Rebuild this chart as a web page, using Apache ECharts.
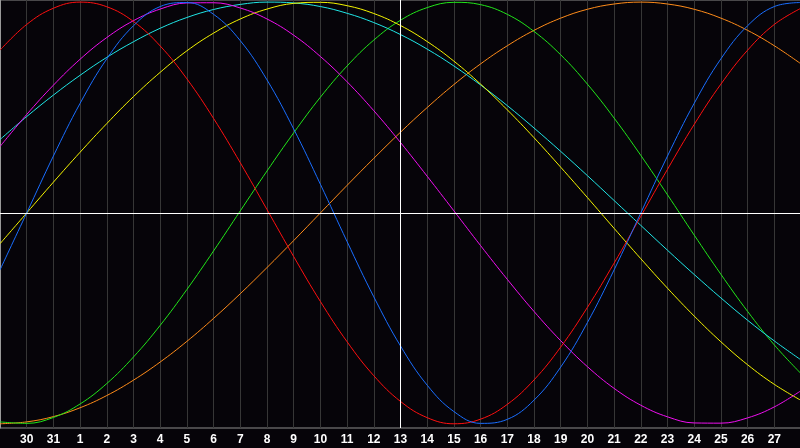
<!DOCTYPE html>
<html>
<head>
<meta charset="utf-8" />
<title>Biorhythm</title>
<script src="https://cdn.jsdelivr.net/npm/echarts@6/dist/echarts.min.js"></script>
</head>
<body style="margin:0; background:#060409">
<div id="main" style="width:800px; height:448px"></div>
<script type="text/javascript">
// days shown along the bottom (first and last are edges, not labelled)
var days = ["29", "30", "31", "1", "2", "3", "4", "5", "6", "7", "8", "9", "10", "11", "12",
    "13", "14", "15", "16", "17", "18", "19", "20", "21", "22", "23", "24", "25", "26", "27", "28"];
var today = "13";

// values, one per day, range -1..1
var physical = [-0.27, 0, 0.27, 0.52, 0.731, 0.888, 0.979, 0.998, 0.942, 0.817, 0.631, 0.398, 0.136, -0.136, -0.398,
    -0.631, -0.817, -0.942, -0.998, -0.979, -0.888, -0.731, -0.52, -0.27, 0, 0.27, 0.52, 0.731, 0.888, 0.979, 0.998];
var emotional = [0.772, 0.894, 0.971, 1.0, 0.978, 0.908, 0.792, 0.636, 0.448, 0.238, 0.016, -0.207, -0.42, -0.611, -0.772,
    -0.894, -0.971, -1.0, -0.978, -0.908, -0.792, -0.636, -0.448, -0.238, -0.016, 0.207, 0.42, 0.611, 0.772, 0.894, 0.971];
var intellectual = [-0.991, -0.998, -0.97, -0.906, -0.809, -0.683, -0.533, -0.363, -0.18, 0.01, 0.199, 0.38, 0.549, 0.697, 0.82,
    0.914, 0.974, 0.999, 0.988, 0.942, 0.861, 0.75, 0.611, 0.45, 0.273, 0.086, -0.105, -0.291, -0.467, -0.626, -0.762];
var intuitive = [0.315, 0.467, 0.606, 0.729, 0.832, 0.912, 0.967, 0.996, 0.997, 0.972, 0.92, 0.843, 0.742, 0.622, 0.485,
    0.334, 0.174, 0.01, -0.155, -0.315, -0.467, -0.606, -0.729, -0.832, -0.912, -0.967, -0.996, -0.997, -0.972, -0.92, -0.843];
var aesthetic = [-0.146, 0, 0.146, 0.288, 0.424, 0.552, 0.667, 0.769, 0.853, 0.92, 0.967, 0.994, 0.999, 0.983, 0.946,
    0.889, 0.813, 0.72, 0.611, 0.489, 0.357, 0.217, 0.073, -0.073, -0.217, -0.357, -0.489, -0.611, -0.72, -0.813, -0.889];
var awareness = [-1.0, -0.991, -0.966, -0.924, -0.866, -0.793, -0.707, -0.609, -0.5, -0.383, -0.259, -0.131, 0, 0.131, 0.259,
    0.383, 0.5, 0.609, 0.707, 0.793, 0.866, 0.924, 0.966, 0.991, 1.0, 0.991, 0.966, 0.924, 0.866, 0.793, 0.707];
var spiritual = [0.348, 0.457, 0.559, 0.653, 0.738, 0.812, 0.876, 0.927, 0.965, 0.989, 1.0, 0.996, 0.979, 0.947, 0.903,
    0.846, 0.777, 0.697, 0.607, 0.509, 0.403, 0.292, 0.177, 0.059, -0.059, -0.177, -0.292, -0.403, -0.509, -0.607, -0.697];

var curves = [
    { name: "Awareness", data: awareness, color: "#ff8c1a" },
    { name: "Intellectual", data: intellectual, color: "#22e61a" },
    { name: "Spiritual", data: spiritual, color: "#20e6e6" },
    { name: "Aesthetic", data: aesthetic, color: "#f5f500" },
    { name: "Intuitive", data: intuitive, color: "#f010f0" },
    { name: "Emotional", data: emotional, color: "#ff1010" },
    { name: "Physical", data: physical, color: "#1a6eff" }
];

var myChart = echarts.init(document.getElementById("main"));

var series = curves.map(function (c) {
    return {
        name: c.name,
        type: "line",
        data: c.data,
        smooth: 0.4,
        showSymbol: false,
        silent: true,
        lineStyle: { color: c.color, width: 1 },
        z: 3
    };
});

// today marker and zero line
series.push({
    type: "line",
    data: [],
    silent: true,
    markLine: {
        silent: true,
        symbol: "none",
        label: { show: false },
        lineStyle: { color: "#ffffff", width: 1, type: "solid" },
        data: [{ xAxis: today }, { yAxis: 0 }]
    },
    z: 2
});

var option = {
    backgroundColor: "#060409",
    animation: false,
    grid: {
        left: 0,
        right: -1,
        top: 0,
        bottom: 20,
        containLabel: false,
        outerBoundsMode: "none",
        show: true,
        borderColor: "#8c8c8c",
        borderWidth: 1,
        backgroundColor: "transparent"
    },
    xAxis: {
        type: "category",
        data: days,
        boundaryGap: false,
        axisLine: { show: true, lineStyle: { color: "#c8c8c8", width: 1 } },
        axisTick: { show: false },
        splitLine: { show: true, interval: 0, lineStyle: { color: "#363636", width: 1 } },
        axisLabel: {
            interval: 0,
            hideOverlap: false,
            color: "#ffffff",
            fontFamily: "Liberation Sans",
            fontWeight: "bold",
            fontSize: 12,
            margin: 6,
            formatter: function (value, index) {
                return index === 0 || index === days.length - 1 ? "" : value;
            }
        }
    },
    yAxis: {
        type: "value",
        min: -1.02,
        max: 1.01,
        axisLine: { show: true, lineStyle: { color: "#999999" } },
        axisTick: { show: false },
        axisLabel: { show: false },
        splitLine: { show: false }
    },
    series: series
};

myChart.setOption(option);
</script>
</body>
</html>
